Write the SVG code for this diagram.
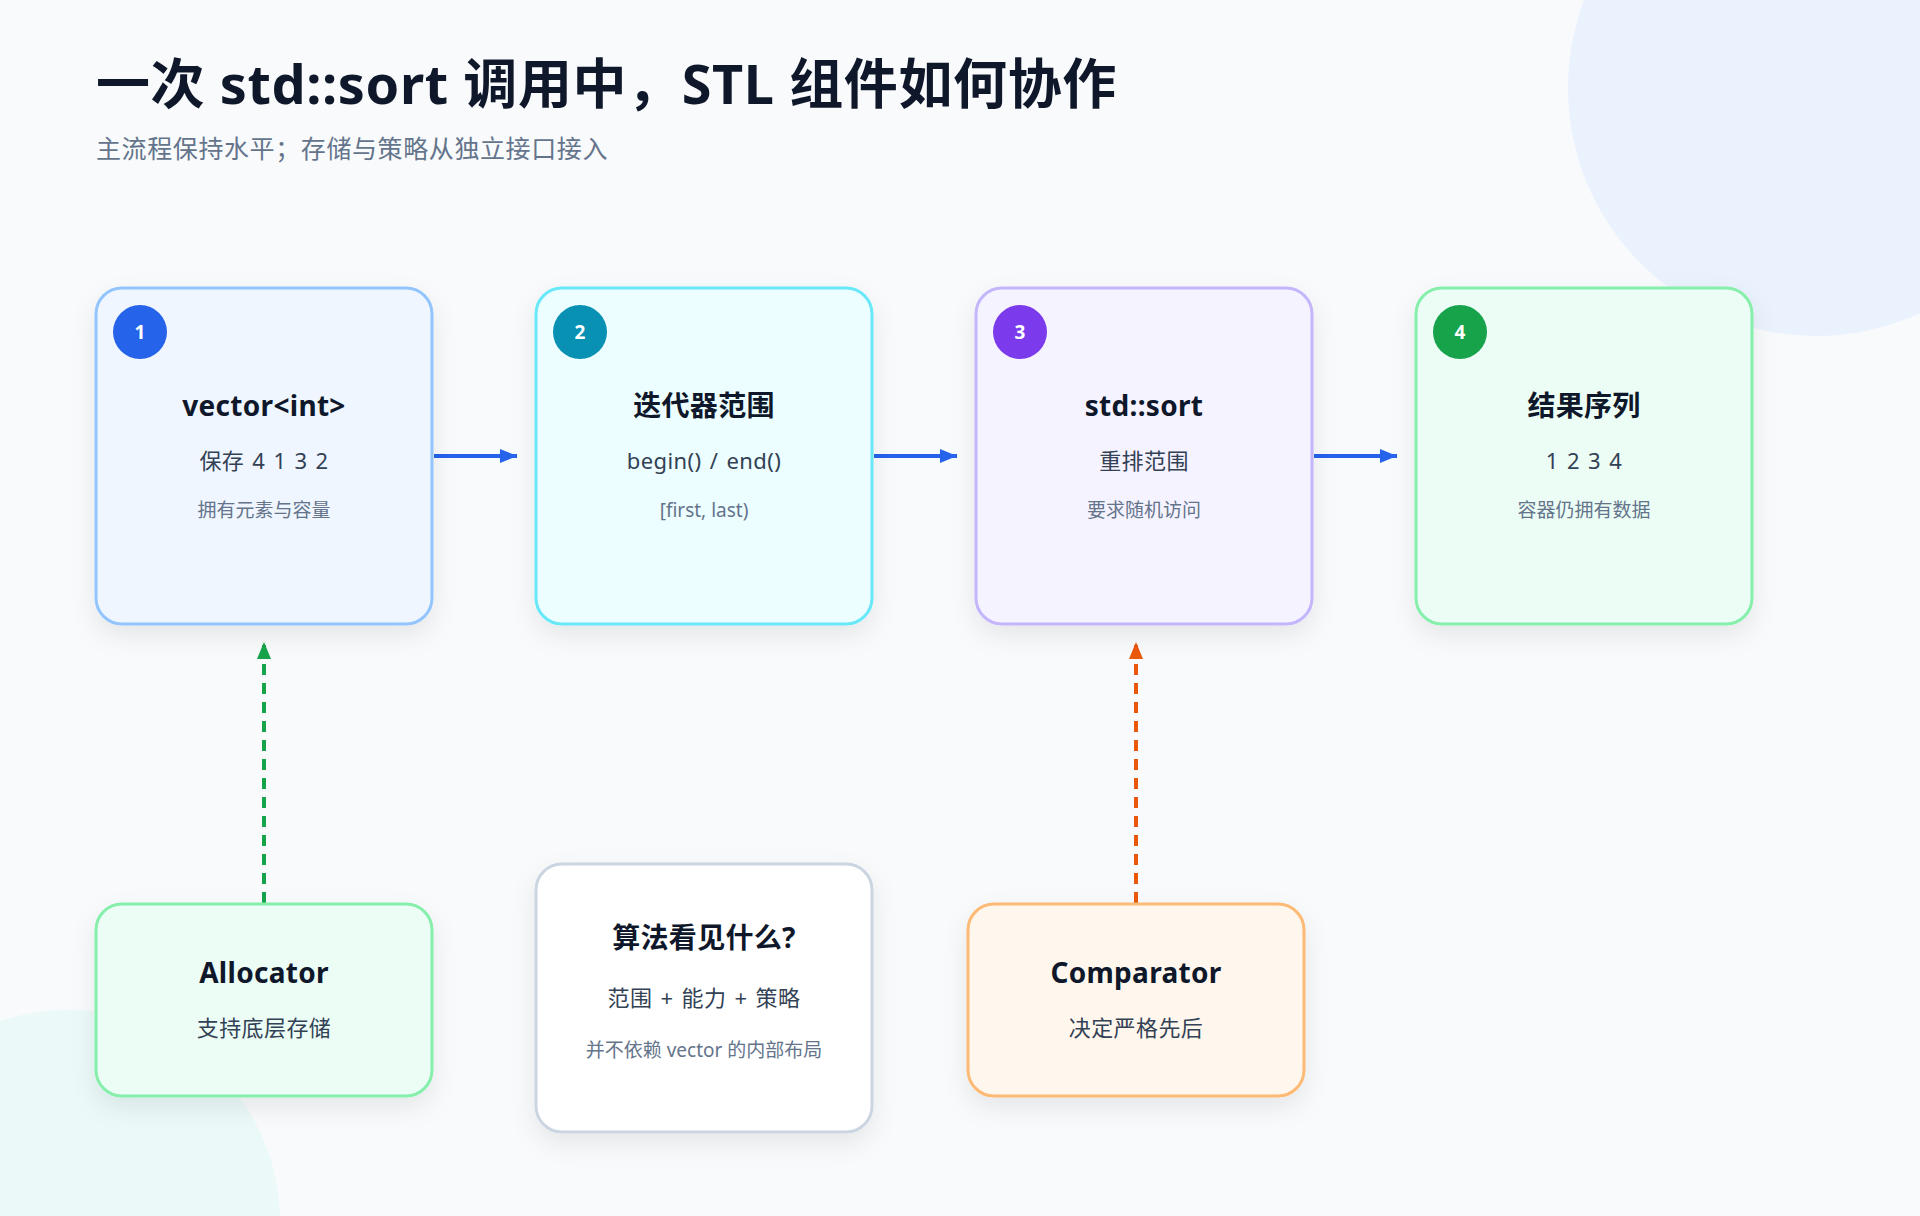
<svg xmlns="http://www.w3.org/2000/svg" width="1920" height="1216" viewBox="0 0 1920 1216">
  <defs>
    <filter id="shadow" x="-20%" y="-20%" width="140%" height="150%">
      <feDropShadow dx="0" dy="10" stdDeviation="12" flood-color="#0f172a" flood-opacity="0.08"/>
    </filter>
    <marker id="arrBlue" markerUnits="userSpaceOnUse" markerWidth="17" markerHeight="14" viewBox="0 0 17 14" refX="17" refY="7" orient="auto">
      <path d="M0,0 L17,7 L0,14 z" fill="#2563eb"/>
    </marker>
    <marker id="arrGreen" markerUnits="userSpaceOnUse" markerWidth="17" markerHeight="14" viewBox="0 0 17 14" refX="17" refY="7" orient="auto">
      <path d="M0,0 L17,7 L0,14 z" fill="#16a34a"/>
    </marker>
    <marker id="arrOrange" markerUnits="userSpaceOnUse" markerWidth="17" markerHeight="14" viewBox="0 0 17 14" refX="17" refY="7" orient="auto">
      <path d="M0,0 L17,7 L0,14 z" fill="#ea580c"/>
    </marker>
  </defs>
  <style>
    text { font-family: "Noto Sans", "Noto Sans CJK SC", sans-serif; }
    .title { font-size: 54px; font-weight: 700; fill: #0f172a; letter-spacing: 0.6px; }
    .subtitle { font-size: 25px; fill: #64748b; letter-spacing: 0.6px; }
    .box { stroke-width: 3; filter: url(#shadow); }
    .h { font-size: 28px; font-weight: 700; fill: #0f172a; text-anchor: middle; letter-spacing: 0.3px; }
    .m { font-size: 22px; fill: #334155; text-anchor: middle; letter-spacing: 0.4px; word-spacing: 2px; }
    .s { font-size: 19px; fill: #64748b; text-anchor: middle; }
    .badge-t { font-size: 19px; font-weight: 700; fill: #ffffff; text-anchor: middle; }
    .flow { stroke: #2563eb; stroke-width: 4; fill: none; marker-end: url(#arrBlue); }
    .dash { stroke-width: 4; fill: none; stroke-dasharray: 11 8; }
  </style>

  <rect x="0" y="0" width="1920" height="1216" fill="#f8fafc"/>
  <circle cx="1816" cy="88" r="248" fill="#eaf2fd"/>
  <circle cx="68" cy="1222" r="212" fill="#ebf9f9"/>

  <text class="title" x="96" y="104">一次 std::sort 调用中，STL 组件如何协作</text>
  <text class="subtitle" x="96" y="158">主流程保持水平；存储与策略从独立接口接入</text>

  <g id="connectors">
    <line class="flow" x1="434" y1="456" x2="517" y2="456"/>
    <line class="flow" x1="874" y1="456" x2="957" y2="456"/>
    <line class="flow" x1="1314" y1="456" x2="1397" y2="456"/>
    <line class="dash" x1="264" y1="903" x2="264" y2="642" stroke="#16a34a" marker-end="url(#arrGreen)"/>
    <line class="dash" x1="1136" y1="903" x2="1136" y2="642" stroke="#ea580c" marker-end="url(#arrOrange)"/>
  </g>

  <g id="node-vector">
    <rect class="box" x="96" y="288" width="336" height="336" rx="26" fill="#eff6ff" stroke="#93c5fd"/>
    <circle cx="140" cy="332" r="27" fill="#2563eb"/>
    <text class="badge-t" x="140" y="339">1</text>
    <text class="h" x="264" y="416">vector&lt;int&gt;</text>
    <text class="m" x="264" y="469">保存 4 1 3 2</text>
    <text class="s" x="264" y="517">拥有元素与容量</text>
  </g>

  <g id="node-iter">
    <rect class="box" x="536" y="288" width="336" height="336" rx="26" fill="#ecfeff" stroke="#67e8f9"/>
    <circle cx="580" cy="332" r="27" fill="#0891b2"/>
    <text class="badge-t" x="580" y="339">2</text>
    <text class="h" x="704" y="416">迭代器范围</text>
    <text class="m" x="704" y="469">begin() / end()</text>
    <text class="s" x="704" y="517">[first, last)</text>
  </g>

  <g id="node-sort">
    <rect class="box" x="976" y="288" width="336" height="336" rx="26" fill="#f5f3ff" stroke="#c4b5fd"/>
    <circle cx="1020" cy="332" r="27" fill="#7c3aed"/>
    <text class="badge-t" x="1020" y="339">3</text>
    <text class="h" x="1144" y="416">std::sort</text>
    <text class="m" x="1144" y="469">重排范围</text>
    <text class="s" x="1144" y="517">要求随机访问</text>
  </g>

  <g id="node-result">
    <rect class="box" x="1416" y="288" width="336" height="336" rx="26" fill="#ecfdf5" stroke="#86efac"/>
    <circle cx="1460" cy="332" r="27" fill="#16a34a"/>
    <text class="badge-t" x="1460" y="339">4</text>
    <text class="h" x="1584" y="416">结果序列</text>
    <text class="m" x="1584" y="469">1 2 3 4</text>
    <text class="s" x="1584" y="517">容器仍拥有数据</text>
  </g>

  <g id="node-allocator">
    <rect class="box" x="96" y="904" width="336" height="192" rx="26" fill="#ecfdf5" stroke="#86efac"/>
    <text class="h" x="264" y="983">Allocator</text>
    <text class="m" x="264" y="1036">支持底层存储</text>
  </g>

  <g id="node-view">
    <rect class="box" x="536" y="864" width="336" height="268" rx="26" fill="#ffffff" stroke="#cbd5e1"/>
    <text class="h" x="704" y="948">算法看见什么?</text>
    <text class="m" x="704" y="1006">范围 + 能力 + 策略</text>
    <text class="s" x="704" y="1057">并不依赖 vector 的内部布局</text>
  </g>

  <g id="node-comparator">
    <rect class="box" x="968" y="904" width="336" height="192" rx="26" fill="#fff7ed" stroke="#fdba74"/>
    <text class="h" x="1136" y="983">Comparator</text>
    <text class="m" x="1136" y="1036">决定严格先后</text>
  </g>
</svg>
